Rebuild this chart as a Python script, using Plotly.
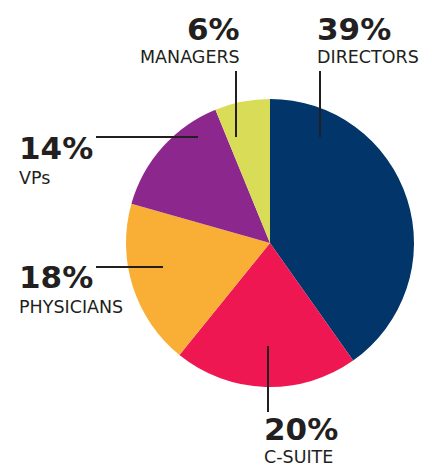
import plotly.graph_objects as go

labels = ["DIRECTORS", "C-SUITE", "PHYSICIANS", "VPs", "MANAGERS"]
values = [39, 20, 18, 14, 6]
colors = ["#02356A", "#EE1752", "#F9AF36", "#8C288D", "#D8DC57"]

W, H = 433, 468

def px(x):
    return x / W

def py(y):
    return 1 - y / H

fig = go.Figure(go.Pie(
    labels=labels, values=values, sort=False, direction="clockwise", rotation=0,
    marker=dict(colors=colors, line=dict(width=0)),
    textinfo="none", hoverinfo="skip", showlegend=False,
    domain=dict(x=[px(126), px(414)], y=[py(387), py(99)]),
))

txt = "#231F20"
big = dict(family="'DejaVu Sans', sans-serif", size=31, color=txt, weight="bold")
small = dict(family="'DejaVu Sans', sans-serif", size=17.5, color=txt)

placements = {
    "MANAGERS": (241, 29, "right", 57),
    "DIRECTORS": (316, 29, "left", 57),
    "VPs": (18, 148, "left", 178),
    "PHYSICIANS": (18, 277, "left", 307),
    "C-SUITE": (263, 429, "left", 457),
}

anns = []
for lab, val in zip(labels, values):
    x, yb, anc, ys = placements[lab]
    anns.append(dict(x=px(x), y=py(yb), xref="paper", yref="paper", text=f"{val}%",
                     showarrow=False, xanchor=anc, yanchor="middle", font=big, borderpad=0))
    anns.append(dict(x=px(x), y=py(ys), xref="paper", yref="paper", text=lab,
                     showarrow=False, xanchor=anc, yanchor="middle", font=small, borderpad=0))

line = dict(color="#231F20", width=2)
leaders = [
    (236, 71, 236, 137),
    (320, 71, 320, 137),
    (96, 137, 198, 137),
    (96, 267, 163, 267),
    (268, 346, 268, 412),
]
shapes = [dict(type="line", xref="paper", yref="paper", x0=px(a), y0=py(b), x1=px(c), y1=py(d), line=line)
          for a, b, c, d in leaders]

fig.update_layout(width=W, height=H, margin=dict(l=0, r=0, t=0, b=0),
                  paper_bgcolor="white", plot_bgcolor="white",
                  annotations=anns, shapes=shapes)

fig.write_html("out.html")
